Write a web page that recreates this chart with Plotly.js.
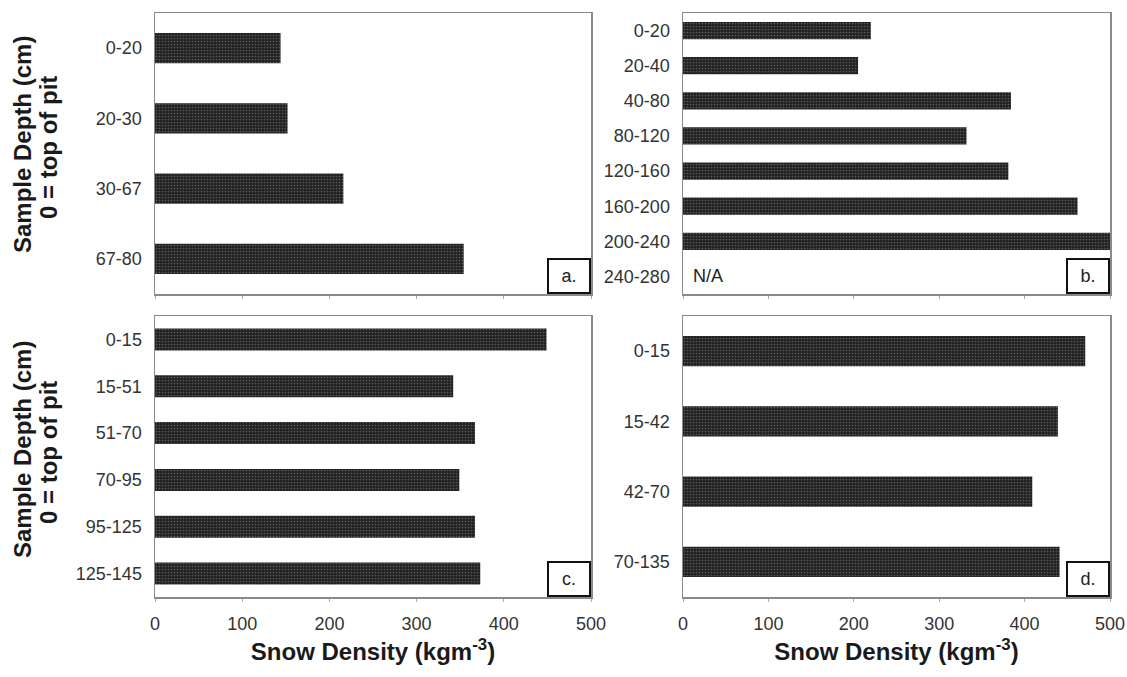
<!DOCTYPE html>
<html>
<head>
<meta charset="utf-8">
<script src="https://cdn.plot.ly/plotly-3.0.1.min.js"></script>
<style>html,body{margin:0;padding:0;background:#fff;}#chart{width:1127px;height:677px;}</style>
</head>
<body>
<div id="chart"></div>
<script>
// ---- data ----
const panelA_cats = ['0-20', '20-30', '30-67', '67-80'];
const panelA_vals = [144, 152, 216, 354];
const panelB_cats = ['0-20', '20-40', '40-80', '80-120', '120-160', '160-200', '200-240', '240-280'];
const panelB_vals = [220, 205, 384, 332, 381, 462, 500, null];
const panelC_cats = ['0-15', '15-51', '51-70', '70-95', '95-125', '125-145'];
const panelC_vals = [449, 342, 367, 349, 367, 373];
const panelD_cats = ['0-15', '15-42', '42-70', '70-135'];
const panelD_vals = [471, 439, 409, 441];
const xTickVals = [0, 100, 200, 300, 400, 500];
const panelLetters = ['a.', 'b.', 'c.', 'd.'];
const yTitle1 = 'Sample Depth (cm)';
const yTitle2 = '0 = top of pit';
const xTitle = 'Snow Density (kgm<sup>-3</sup>)';
const naText = 'N/A';

const W = 1127, H = 677;
const FONT = 'Liberation Sans, Arial, sans-serif';
const px = v => v / W;
const py = v => 1 - v / H;

const barStyle = {
  color: '#262626',
  line: {width: 0},
  pattern: {shape: '.', fgcolor: '#5a5a5a', bgcolor: '#222', size: 3, solidity: 0.25}
};

function barTrace(cats, vals, xa, ya, w) {
  return {
    type: 'bar', orientation: 'h', y: cats, x: vals,
    xaxis: xa, yaxis: ya, width: w, marker: barStyle,
    hoverinfo: 'x+y', showlegend: false
  };
}

const data = [
  barTrace(panelA_cats, panelA_vals, 'x', 'y', 0.43),
  barTrace(panelB_cats, panelB_vals, 'x2', 'y2', 0.49),
  barTrace(panelC_cats, panelC_vals, 'x3', 'y3', 0.47),
  barTrace(panelD_cats, panelD_vals, 'x4', 'y4', 0.43)
];

const colL = [px(155), px(591)];
const colR = [px(683), px(1110)];
const rowT = [py(294), py(13)];
const rowB = [py(597), py(316)];

function xAx(domain, anchor, showLabels) {
  const a = {
    domain: domain, anchor: anchor, range: [0, 500], fixedrange: true,
    tickvals: xTickVals, ticks: 'outside', ticklen: 3, tickcolor: '#aaa',
    showgrid: false, zeroline: false, showline: true, mirror: true,
    linecolor: '#8a8a8a', linewidth: 1.5,
    showticklabels: showLabels, automargin: false,
    ticklabeloverflow: 'allow',
    tickfont: {family: FONT, size: 18, color: '#333'},
    ticklabelstandoff: 7
  };
  if (showLabels) {
    a.title = {text: xTitle, font: {family: FONT, size: 24, color: '#1a1a1a', weight: 'bold'}, standoff: 10};
  }
  return a;
}
function yAx(domain, anchor, cats) {
  return {
    domain: domain, anchor: anchor, type: 'category',
    categoryorder: 'array', categoryarray: cats,
    range: [cats.length - 0.5, -0.5], fixedrange: true,
    ticks: '', showgrid: false, zeroline: false, showline: true, mirror: true,
    linecolor: '#8a8a8a', linewidth: 1.5, automargin: false,
    tickfont: {family: FONT, size: 18, color: '#333'},
    ticklabelstandoff: 8
  };
}

const axesPairs = [['x', 'y'], ['x2', 'y2'], ['x3', 'y3'], ['x4', 'y4']];
const annotations = [];
axesPairs.forEach((p, i) => {
  annotations.push({
    xref: p[0] + ' domain', yref: p[1] + ' domain', x: 1, y: 0,
    xanchor: 'right', yanchor: 'bottom', text: panelLetters[i], showarrow: false,
    font: {family: FONT, size: 18, color: '#222'},
    bordercolor: '#111', borderwidth: 2, borderpad: 1, width: 38, height: 30,
    bgcolor: '#fff'
  });
});
annotations.push({
  xref: 'x2', yref: 'y2', x: 0, y: '240-280', xanchor: 'left', xshift: 8,
  text: naText, showarrow: false, font: {family: FONT, size: 18, color: '#222'}
});
[[22, 49, 145], [22, 49, 450]].forEach(r => {
  annotations.push({
    xref: 'paper', yref: 'paper', x: px(r[0]), y: py(r[2]), xanchor: 'center', yanchor: 'middle',
    textangle: -90, text: yTitle1, showarrow: false,
    font: {family: FONT, size: 24, color: '#1a1a1a', weight: 'bold'}
  });
  annotations.push({
    xref: 'paper', yref: 'paper', x: px(r[1]), y: py(r[2] + 3), xanchor: 'center', yanchor: 'middle',
    textangle: -90, text: yTitle2, showarrow: false,
    font: {family: FONT, size: 24, color: '#1a1a1a', weight: 'bold'}
  });
});

const layout = {
  width: W, height: H,
  margin: {l: 0, r: 0, t: 0, b: 0},
  paper_bgcolor: '#fff', plot_bgcolor: '#fff',
  showlegend: false,
  xaxis: xAx(colL, 'y', false),
  yaxis: yAx(rowT, 'x', panelA_cats),
  xaxis2: xAx(colR, 'y2', false),
  yaxis2: yAx(rowT, 'x2', panelB_cats),
  xaxis3: xAx(colL, 'y3', true),
  yaxis3: yAx(rowB, 'x3', panelC_cats),
  xaxis4: xAx(colR, 'y4', true),
  yaxis4: yAx(rowB, 'x4', panelD_cats),
  annotations: annotations
};

Plotly.newPlot('chart', data, layout, {displayModeBar: false, staticPlot: true});
</script>
</body>
</html>
